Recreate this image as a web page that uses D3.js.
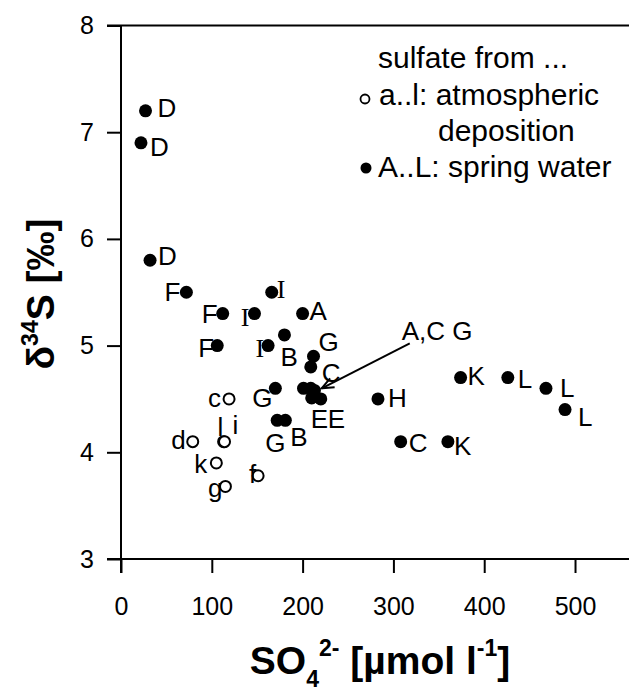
<!DOCTYPE html>
<html>
<head>
<meta charset="utf-8">
<script src="https://cdn.jsdelivr.net/npm/d3@7"></script>
<style>
  body { margin: 0; background: #fff; }
  text { font-family: "Liberation Sans", Arial, Helvetica, sans-serif; fill: #000; }
</style>
</head>
<body>
<svg width="629" height="694"></svg>
<script>
// sulfate from spring water (A..L), filled dots
var springX = [27, 22, 32, 72, 112, 106, 147, 166, 162, 200, 180, 212, 209,
               201, 209, 213, 210, 220, 170, 172, 181, 283, 308, 360, 374, 426, 468, 489];
var springY = [7.2, 6.9, 5.8, 5.5, 5.3, 5.0, 5.3, 5.5, 5.0, 5.3, 5.1, 4.9, 4.8,
               4.6, 4.6, 4.58, 4.51, 4.5, 4.6, 4.3, 4.3, 4.5, 4.1, 4.1, 4.7, 4.7, 4.6, 4.4];
var springLabel = ["D", "D", "D", "F", "F", "F", "I", "I", "I", "A", "B", "G", "C",
                   "", "", "", "E", "E", "G", "G", "B", "H", "C", "K", "K", "L", "L", "L"];

// sulfate from atmospheric deposition (a..l), open circles
var atmosX = [119, 79, 113, 114, 105, 115, 151];
var atmosY = [4.5, 4.1, 4.1, 4.1, 3.9, 3.68, 3.78];
var atmosLabel = ["c", "d", "l", "i", "k", "g", "f"];

// the crowded group pointed at by the arrow
var annoText = "A,C G";
var annoFrom = [318, 5.02];
var annoTo = [221, 4.6];

var xTicks = [0, 100, 200, 300, 400, 500];
var yTicks = [3, 4, 5, 6, 7, 8];

// label placement next to each mark: [dx, dy, anchor]
var springLabelPos = [
  [12, 6, "start"], [9, 13, "start"], [8, 5, "start"],
  [-6, 9, "end"], [-5, 9, "end"], [-3, 11, "end"],
  [-5, 12, "end"], [5, 6, "start"], [-4, 11, "end"],
  [7, 6, "start"], [-4, 31, "start"], [5, -5, "start"], [11, 15, "start"],
  [0, 0, "start"], [0, 0, "start"], [0, 0, "start"],
  [-1, 30, "start"], [7, 29, "start"],
  [-3, 19, "end"], [-12, 32, "start"], [5, 26, "start"],
  [10, 8, "start"], [8, 10, "start"], [6, 13, "start"], [7, 7, "start"],
  [10, 10, "start"], [14, 9, "start"], [13, 16, "start"]
];
var atmosLabelPos = [
  [-8, 8, "end"], [-7, 7, "end"], [-6, -6, "start"], [8, -8, "start"],
  [-9, 10, "end"], [-3, 11, "end"], [-2, 7, "end"]
];

var svg = d3.select("svg");

var x = d3.scaleLinear().domain([0, 560]).range([121, 629.5]);
var y = d3.scaleLinear().domain([3, 8]).range([559, 25.5]);

// axes
var xAxis = d3.axisBottom(x).tickValues(xTicks).tickFormat(d3.format("d"))
  .tickSize(14).tickSizeOuter(0).tickPadding(24);
var yAxis = d3.axisLeft(y).tickValues(yTicks).tickFormat(d3.format("d"))
  .tickSize(14).tickSizeOuter(0).tickPadding(13);

var gx = svg.append("g").attr("transform", "translate(0," + y(3) + ")").call(xAxis);
var gy = svg.append("g").attr("transform", "translate(" + x(0) + ",0)").call(yAxis);

[gx, gy].forEach(function (g) {
  g.select(".domain").remove();
  g.selectAll("line").attr("stroke", "#000").attr("stroke-width", 2);
  g.selectAll("text").style("font-size", "25px").style("font-family", "Liberation Sans, Arial, sans-serif");
});
gx.selectAll("text").attr("dy", "0.71em");

// frame lines
svg.append("line").attr("x1", x(0) - 14).attr("x2", 629).attr("y1", y(3)).attr("y2", y(3))
  .attr("stroke", "#000").attr("stroke-width", 2);
svg.append("line").attr("x1", x(0) - 14).attr("x2", 629).attr("y1", y(8)).attr("y2", y(8))
  .attr("stroke", "#000").attr("stroke-width", 2);
svg.append("line").attr("x1", x(0)).attr("x2", x(0)).attr("y1", y(8)).attr("y2", y(3) + 14)
  .attr("stroke", "#000").attr("stroke-width", 2);

// arrow
svg.append("defs").append("marker")
  .attr("id", "head").attr("markerUnits", "userSpaceOnUse")
  .attr("markerWidth", 30).attr("markerHeight", 30)
  .attr("refX", 15).attr("refY", 15).attr("orient", "auto")
  .append("path").attr("d", "M3,10 L15,15 L3,20")
  .attr("fill", "none").attr("stroke", "#000").attr("stroke-width", 2);

svg.append("line")
  .attr("x1", x(annoFrom[0])).attr("y1", y(annoFrom[1]))
  .attr("x2", x(annoTo[0])).attr("y2", y(annoTo[1]))
  .attr("stroke", "#000").attr("stroke-width", 2)
  .attr("marker-end", "url(#head)");

svg.append("text")
  .attr("x", x(annoFrom[0]) - 8).attr("y", y(annoFrom[1]) - 3)
  .style("font-size", "26px")
  .text(annoText);

// marks
var spring = springX.map(function (d, i) { return { x: d, y: springY[i], label: springLabel[i], pos: springLabelPos[i] }; });
var atmos = atmosX.map(function (d, i) { return { x: d, y: atmosY[i], label: atmosLabel[i], pos: atmosLabelPos[i] }; });

svg.append("g").selectAll("circle").data(atmos).join("circle")
  .attr("cx", function (d) { return x(d.x); })
  .attr("cy", function (d) { return y(d.y); })
  .attr("r", 5.5)
  .attr("fill", "#fff").attr("stroke", "#000").attr("stroke-width", 2);

svg.append("g").selectAll("circle").data(spring).join("circle")
  .attr("cx", function (d) { return x(d.x); })
  .attr("cy", function (d) { return y(d.y); })
  .attr("r", 6.5)
  .attr("fill", "#000");

svg.append("g").selectAll("text").data(spring.concat(atmos).filter(function (d) { return d.label; })).join("text")
  .attr("x", function (d) { return x(d.x) + d.pos[0]; })
  .attr("y", function (d) { return y(d.y) + d.pos[1]; })
  .attr("text-anchor", function (d) { return d.pos[2]; })
  .style("font-size", "26px")
  .style("font-family", function (d) { return d.label === "I" ? "Liberation Serif, serif" : null; })
  .text(function (d) { return d.label; });

// legend
var leg = svg.append("g").style("font-size", "30px");
leg.append("text").attr("x", 378).attr("y", 68).text("sulfate from ...");
leg.append("circle").attr("cx", 365).attr("cy", 99).attr("r", 4.5)
  .attr("fill", "#fff").attr("stroke", "#000").attr("stroke-width", 1.8);
leg.append("text").attr("x", 379).attr("y", 105).text("a..l: atmospheric");
leg.append("text").attr("x", 438).attr("y", 141).text("deposition");
leg.append("circle").attr("cx", 366).attr("cy", 168).attr("r", 5.5).attr("fill", "#000");
leg.append("text").attr("x", 378).attr("y", 177).text("A..L: spring water");

// axis titles
var xt = svg.append("text").attr("x", 380).attr("y", 674).attr("text-anchor", "middle")
  .style("font-size", "39px").style("font-weight", "bold");
xt.append("tspan").text("SO");
xt.append("tspan").attr("dy", 13).style("font-size", "23px").text("4");
xt.append("tspan").attr("dy", -31).style("font-size", "23px").text("2-");
xt.append("tspan").attr("dy", 18).text(" [\u00b5mol l");
xt.append("tspan").attr("dy", -18).style("font-size", "23px").text("-1");
xt.append("tspan").attr("dy", 18).text("]");

var yt = svg.append("text").attr("transform", "translate(54,294) rotate(-90)")
  .attr("text-anchor", "middle")
  .style("font-size", "39px").style("font-weight", "bold");
yt.append("tspan").text("\u03b4");
yt.append("tspan").attr("dy", -16).style("font-size", "23px").text("34");
yt.append("tspan").attr("dy", 16).text("S [\u2030]");
</script>
</body>
</html>
